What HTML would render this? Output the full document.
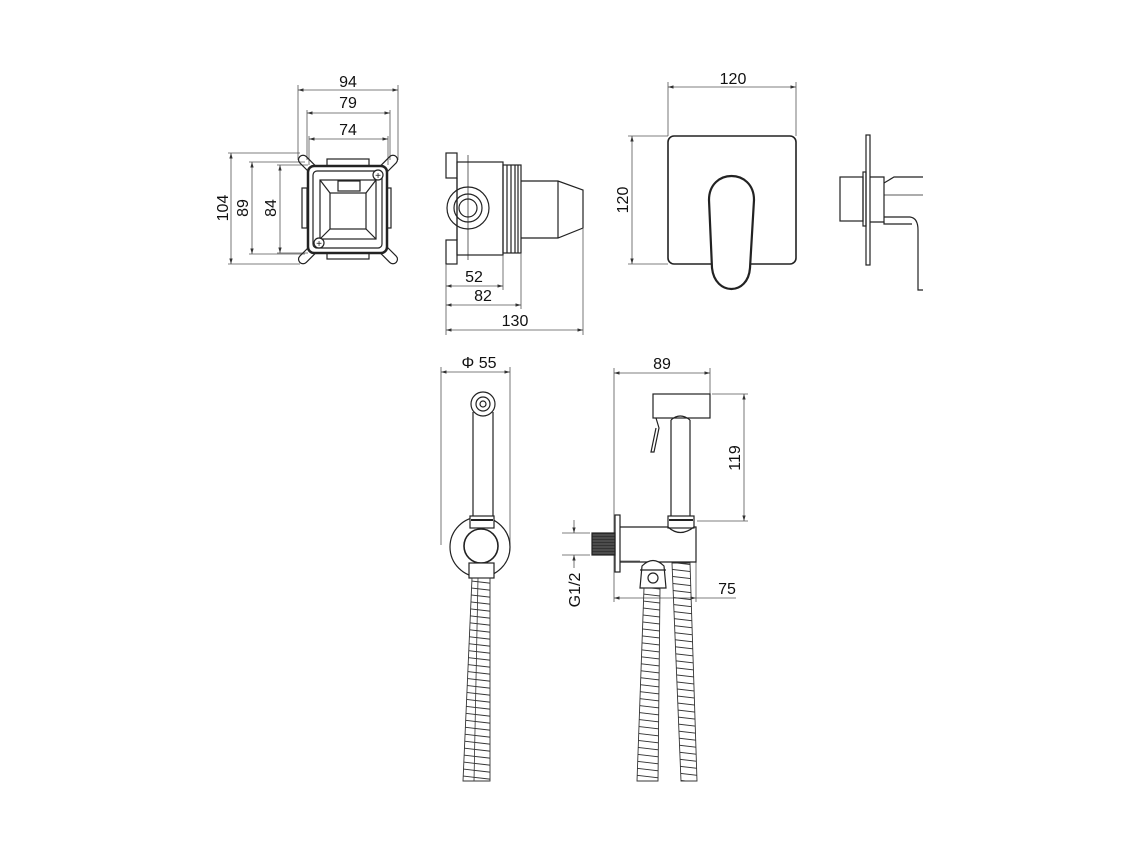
<!DOCTYPE html>
<html><head><style>
body{margin:0;background:#fff}
svg{display:block}
text{font-family:"Liberation Sans",sans-serif;font-size:16px;fill:#111}
.d{stroke:#555;stroke-width:0.8;fill:none}
.o{stroke:#222;stroke-width:1.2;fill:none}
.t{stroke:#222;stroke-width:2.5;fill:none}
</style></head><body>
<svg width="1133" height="850" viewBox="0 0 1133 850" xmlns="http://www.w3.org/2000/svg">
<defs>
<marker id="a" viewBox="0 0 10 10" refX="10" refY="5" markerWidth="7" markerHeight="7" orient="auto-start-reverse"><path d="M0,2 L10,5 L0,8 Z" fill="#333"/></marker>
<pattern id="h" width="60" height="7" patternUnits="userSpaceOnUse"><line x1="0" y1="1" x2="60" y2="8" stroke="#333" stroke-width="0.9"/><line x1="0" y1="-6" x2="60" y2="1" stroke="#333" stroke-width="0.9"/></pattern>
<pattern id="th" width="3" height="3" patternUnits="userSpaceOnUse"><rect width="3" height="3" fill="#333"/><line x1="0" y1="1" x2="3" y2="1" stroke="#888" stroke-width="0.6"/></pattern>
</defs>

<!-- ===== Box front ===== -->
<g class="d">
<line x1="298" y1="85" x2="298" y2="160"/><line x1="398" y1="85" x2="398" y2="160"/>
<line x1="298" y1="90" x2="398" y2="90" marker-start="url(#a)" marker-end="url(#a)"/>
<line x1="307" y1="110" x2="307" y2="160"/><line x1="390" y1="110" x2="390" y2="160"/>
<line x1="307" y1="113" x2="390" y2="113" marker-start="url(#a)" marker-end="url(#a)"/>
<line x1="309" y1="136" x2="309" y2="165"/><line x1="388" y1="136" x2="388" y2="165"/>
<line x1="309" y1="139" x2="388" y2="139" marker-start="url(#a)" marker-end="url(#a)"/>
<line x1="228" y1="153" x2="300" y2="153"/><line x1="228" y1="264" x2="300" y2="264"/>
<line x1="231" y1="153" x2="231" y2="264" marker-start="url(#a)" marker-end="url(#a)"/>
<line x1="249" y1="162" x2="305" y2="162"/><line x1="249" y1="254" x2="305" y2="254"/>
<line x1="252" y1="162" x2="252" y2="254" marker-start="url(#a)" marker-end="url(#a)"/>
<line x1="277" y1="165" x2="308" y2="165"/><line x1="277" y1="253" x2="308" y2="253"/>
<line x1="280" y1="165" x2="280" y2="253" marker-start="url(#a)" marker-end="url(#a)"/>
</g>
<text x="348" y="87" text-anchor="middle">94</text>
<text x="348" y="108" text-anchor="middle">79</text>
<text x="348" y="135" text-anchor="middle">74</text>
<text transform="translate(228,208) rotate(-90)" text-anchor="middle">104</text>
<text transform="translate(248,208) rotate(-90)" text-anchor="middle">89</text>
<text transform="translate(276,208) rotate(-90)" text-anchor="middle">84</text>
<rect x="327" y="159" width="42" height="8" class="o"/>
<rect x="327" y="252" width="42" height="7" class="o"/>
<rect x="302" y="188" width="5" height="40" class="o"/>
<rect x="386" y="188" width="5" height="40" class="o"/>
<g class="o">
<rect x="297" y="160" width="22" height="9" rx="4.5" transform="rotate(45 308 164)"/>
<rect x="377" y="160" width="22" height="9" rx="4.5" transform="rotate(-45 388 164)"/>
<rect x="297" y="250" width="22" height="9" rx="4.5" transform="rotate(-45 308 255)"/>
<rect x="377" y="250" width="22" height="9" rx="4.5" transform="rotate(45 388 255)"/>
</g>
<rect x="308" y="166" width="79" height="87" rx="6" class="t" style="fill:#fff"/>
<rect x="313" y="171" width="69" height="77" rx="4" class="o"/>
<rect x="320" y="180" width="56" height="59" class="o"/>
<rect x="330" y="193" width="36" height="36" class="o"/>
<line x1="320" y1="180" x2="330" y2="193" class="o"/><line x1="376" y1="180" x2="366" y2="193" class="o"/>
<line x1="320" y1="239" x2="330" y2="229" class="o"/><line x1="376" y1="239" x2="366" y2="229" class="o"/>
<rect x="338" y="181" width="22" height="10" class="o"/>
<g class="o">
<circle cx="378" cy="175" r="5" style="fill:#fff"/><circle cx="319" cy="243" r="5" style="fill:#fff"/>
</g>
<text x="378" y="179" text-anchor="middle" style="font-size:10px">+</text>
<text x="319" y="247" text-anchor="middle" style="font-size:10px">+</text>

<!-- ===== Box side ===== -->
<g class="o">
<rect x="446" y="153" width="11" height="25"/><rect x="446" y="240" width="11" height="24"/>
<line x1="457" y1="178" x2="457" y2="240"/>
<rect x="457" y="162" width="46" height="93"/>
<rect x="503" y="165" width="18" height="88"/>
<line x1="507" y1="165" x2="507" y2="253"/><line x1="511" y1="165" x2="511" y2="253"/><line x1="515" y1="165" x2="515" y2="253"/><line x1="518" y1="165" x2="518" y2="253"/>
<path d="M521,181 L558,181 L583,190 L583,228 L558,238 L521,238"/>
<line x1="558" y1="181" x2="558" y2="238"/>
<circle cx="468" cy="208" r="21"/><circle cx="468" cy="208" r="14"/><circle cx="468" cy="208" r="9"/>
</g>
<line x1="468" y1="155" x2="468" y2="260" class="o" style="stroke-width:0.7"/>
<g class="d">
<line x1="446" y1="264" x2="446" y2="335"/><line x1="503" y1="255" x2="503" y2="290"/><line x1="521" y1="253" x2="521" y2="309"/><line x1="583" y1="228" x2="583" y2="335"/>
<line x1="446" y1="286" x2="503" y2="286" marker-start="url(#a)" marker-end="url(#a)"/>
<line x1="446" y1="305" x2="521" y2="305" marker-start="url(#a)" marker-end="url(#a)"/>
<line x1="446" y1="330" x2="583" y2="330" marker-start="url(#a)" marker-end="url(#a)"/>
</g>
<text x="474" y="282" text-anchor="middle">52</text>
<text x="483" y="301" text-anchor="middle">82</text>
<text x="515" y="326" text-anchor="middle">130</text>

<!-- ===== Plate ===== -->
<g class="d">
<line x1="668" y1="82" x2="668" y2="136"/><line x1="796" y1="82" x2="796" y2="136"/>
<line x1="668" y1="87" x2="796" y2="87" marker-start="url(#a)" marker-end="url(#a)"/>
<line x1="628" y1="136" x2="668" y2="136"/><line x1="628" y1="264" x2="668" y2="264"/>
<line x1="632" y1="136" x2="632" y2="264" marker-start="url(#a)" marker-end="url(#a)"/>
</g>
<text x="733" y="84" text-anchor="middle">120</text>
<text transform="translate(628,200) rotate(-90)" text-anchor="middle">120</text>
<rect x="668" y="136" width="128" height="128" rx="6" class="o" style="stroke-width:1.6"/>
<path d="M709,200 C709,168 754,168 754,200 L750,268 C748,296 715,296 712,268 Z" class="t" style="fill:#fff;stroke-width:2.2"/>

<!-- side -->
<g class="o">
<rect x="866" y="135" width="4" height="130"/>
<rect x="840" y="177" width="23" height="44"/>
<rect x="863" y="172" width="3" height="54"/>
<path d="M870,177 L884,177 L884,222 L870,222"/>
<path d="M884,183 L894,177 L923,177"/>
<path d="M884,195 L923,195" style="stroke-width:0.7"/>
<path d="M884,217 L910,217 Q918,218 918,230 L918,290 L923,290"/>
<path d="M884,222 L884,224 L912,224"/>
</g>

<!-- ===== Handshower front ===== -->
<g class="d">
<line x1="441" y1="367" x2="441" y2="545"/><line x1="510" y1="367" x2="510" y2="545"/>
<line x1="441" y1="372" x2="510" y2="372" marker-start="url(#a)" marker-end="url(#a)"/>
</g>
<text x="479" y="368" text-anchor="middle">Φ 55</text>
<g class="o">
<circle cx="483" cy="404" r="12"/><circle cx="483" cy="404" r="7"/><circle cx="483" cy="404" r="3"/>
<line x1="473" y1="412" x2="473" y2="516"/><line x1="493" y1="412" x2="493" y2="516"/>
<circle cx="480" cy="547" r="30"/>
<rect x="470" y="516" width="24" height="12" style="fill:#fff"/>
<line x1="471" y1="520" x2="493" y2="520" style="stroke-width:2"/>
<circle cx="481" cy="546" r="17" style="fill:#fff;stroke-width:1.6"/>
<rect x="469" y="563" width="25" height="15" style="fill:#fff"/>
</g>
<polygon points="472,578 490,578 490,781 463,781" fill="url(#h)" stroke="#333" stroke-width="0.9"/>
<line x1="478" y1="578" x2="474" y2="781" stroke="#333" stroke-width="0.8"/>

<!-- ===== Handshower side ===== -->
<g class="d">
<line x1="614" y1="368" x2="614" y2="602"/><line x1="710" y1="368" x2="710" y2="394"/>
<line x1="614" y1="373" x2="710" y2="373" marker-start="url(#a)" marker-end="url(#a)"/>
<line x1="712" y1="394" x2="748" y2="394"/><line x1="697" y1="521" x2="748" y2="521"/>
<line x1="744" y1="394" x2="744" y2="521" marker-start="url(#a)" marker-end="url(#a)"/>
<line x1="562" y1="533" x2="590" y2="533"/><line x1="562" y1="555" x2="590" y2="555"/>
<line x1="574" y1="520" x2="574" y2="533" marker-end="url(#a)"/>
<line x1="574" y1="568" x2="574" y2="555" marker-end="url(#a)"/>
<line x1="696" y1="562" x2="696" y2="602"/>
<line x1="614" y1="598" x2="696" y2="598" marker-start="url(#a)" marker-end="url(#a)"/>
<line x1="696" y1="598" x2="736" y2="598"/>
<line x1="620" y1="561" x2="640" y2="561"/>
</g>
<text x="662" y="369" text-anchor="middle">89</text>
<text transform="translate(740,458) rotate(-90)" text-anchor="middle">119</text>
<text transform="translate(580,590) rotate(-90)" text-anchor="middle">G1/2</text>
<text x="727" y="594" text-anchor="middle">75</text>
<g class="o">
<rect x="653" y="394" width="57" height="24"/>
<path d="M656,418 L659,428 L654,452 L651,452 L656,428"/>
<line x1="671" y1="420" x2="671" y2="516"/><line x1="690" y1="420" x2="690" y2="516"/>
<path d="M671,420 Q680,412 690,420"/>
<rect x="668" y="516" width="26" height="12"/>
<line x1="669" y1="520" x2="693" y2="520" style="stroke-width:2"/>
<path d="M620,527 L668,527 Q680,538 694,527 L696,527 L696,562 L620,562"/>
<rect x="615" y="515" width="5" height="57"/>
<rect x="592" y="533" width="23" height="22" fill="url(#th)"/>
<path d="M642,566 Q653,555 664,566 L666,588 L640,588 Z" style="fill:#fff"/>
<circle cx="653" cy="578" r="5"/>
<line x1="640" y1="570" x2="666" y2="570"/>
</g>
<polygon points="644,588 660,588 658,781 637,781" fill="url(#h)" stroke="#333" stroke-width="0.9"/>
<polygon points="672,563 690,563 697,781 681,781" fill="url(#h)" stroke="#333" stroke-width="0.9"/>
</svg>
</body></html>
